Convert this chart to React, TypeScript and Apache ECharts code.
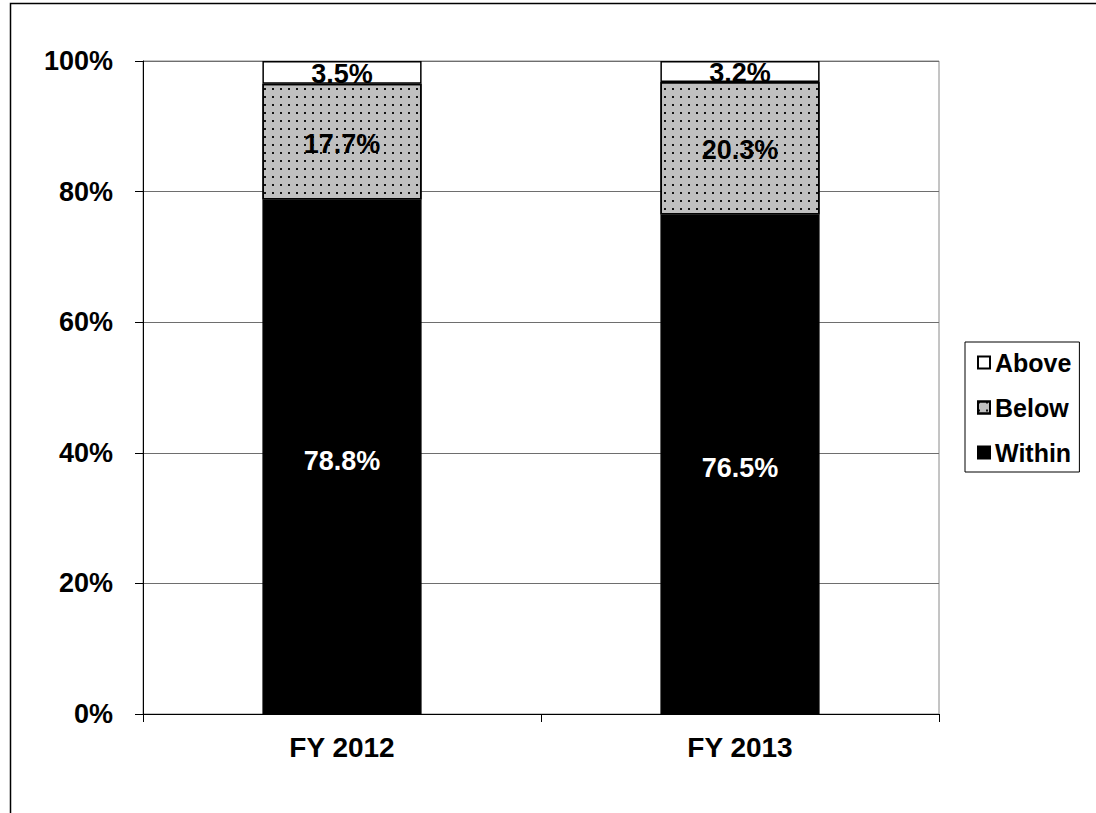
import React, { useEffect, useRef } from "react";
import * as echarts from "echarts";

const categories = ["FY 2012", "FY 2013"];
const withinValues = [78.8, 76.5];
const belowValues = [17.7, 20.3];
const aboveValues = [3.5, 3.2];
const yTicks = [0, 20, 40, 60, 80, 100];

const FONT = "'Liberation Sans', Arial, sans-serif";

export default function App() {
  const ref = useRef<HTMLDivElement>(null);
  useEffect(() => {
    if (!ref.current) return;
    const chart = echarts.init(ref.current, undefined, { renderer: "svg" });
    const labelBase = {
      show: true,
      position: "inside" as const,
      fontFamily: FONT,
      fontWeight: "bold" as const,
      fontSize: 27,
      formatter: (p: any) => p.value.toFixed(1) + "%",
    };
    chart.setOption({
      animation: false,
      backgroundColor: "#fff",
      graphic: [
        {
          type: "rect",
          shape: { x: 10.5, y: 3.5, width: 1200, height: 1000 },
          style: { fill: "none", stroke: "#000", lineWidth: 1.5 },
          silent: true,
          z: -1,
        },
      ],
      grid: {
        left: 143,
        top: 61,
        width: 796,
        height: 653,
        show: true,
        borderColor: "#8a8a8a",
        borderWidth: 1,
        backgroundColor: "transparent",
      },
      legend: {
        data: ["Above", "Below", "Within"],
        orient: "vertical",
        left: 965,
        top: 342,
        icon: "rect",
        itemWidth: 12,
        itemHeight: 12,
        itemGap: 20,
        padding: [8, 8, 7, 12],
        borderColor: "#000",
        borderWidth: 1,
        textStyle: {
          fontFamily: FONT,
          fontWeight: "bold",
          fontSize: 25,
          color: "#000",
          padding: [0, 0, 0, 0],
        },
      },
      xAxis: {
        type: "category",
        data: categories,
        axisLine: { lineStyle: { color: "#000", width: 1 } },
        axisTick: { show: true, length: 8, lineStyle: { color: "#000" } },
        axisLabel: {
          margin: 19,
          fontFamily: FONT,
          fontWeight: "bold",
          fontSize: 28,
          color: "#000",
        },
      },
      yAxis: {
        type: "value",
        min: yTicks[0],
        max: yTicks[yTicks.length - 1],
        interval: 20,
        axisLine: { show: true, lineStyle: { color: "#000", width: 1 } },
        axisTick: { show: true, length: 8, lineStyle: { color: "#000" } },
        splitLine: { lineStyle: { color: "#6e6e6e", width: 1 } },
        axisLabel: {
          formatter: "{value}%",
          margin: 30,
          fontFamily: FONT,
          fontWeight: "bold",
          fontSize: 27,
          color: "#000",
        },
      },
      series: [
        {
          name: "Within",
          type: "bar",
          stack: "total",
          barWidth: "40%",
          data: withinValues,
          itemStyle: { color: "#000", borderColor: "#000", borderWidth: 1.5 },
          label: { ...labelBase, color: "#fff", offset: [0, 4] },
        },
        {
          name: "Below",
          type: "bar",
          stack: "total",
          data: belowValues,
          itemStyle: {
            color: "#c0c0c0",
            borderColor: "#000",
            borderWidth: 1.5,
            decal: {
              symbol: "rect",
              symbolSize: 0.9,
              color: "#000",
              dashArrayX: [[2, 6]],
              dashArrayY: [2, 6],
              rotation: 0,
            },
          },
          label: { ...labelBase, color: "#000", offset: [0, 2] },
        },
        {
          name: "Above",
          type: "bar",
          stack: "total",
          data: aboveValues,
          itemStyle: { color: "#fff", borderColor: "#000", borderWidth: 1.5 },
          label: { ...labelBase, color: "#000", offset: [0, 2] },
        },
      ],
    });
    return () => chart.dispose();
  }, []);
  return (
    <div
      ref={ref}
      style={{ position: "absolute", left: 0, top: 0, width: 1096, height: 813 }}
    />
  );
}
